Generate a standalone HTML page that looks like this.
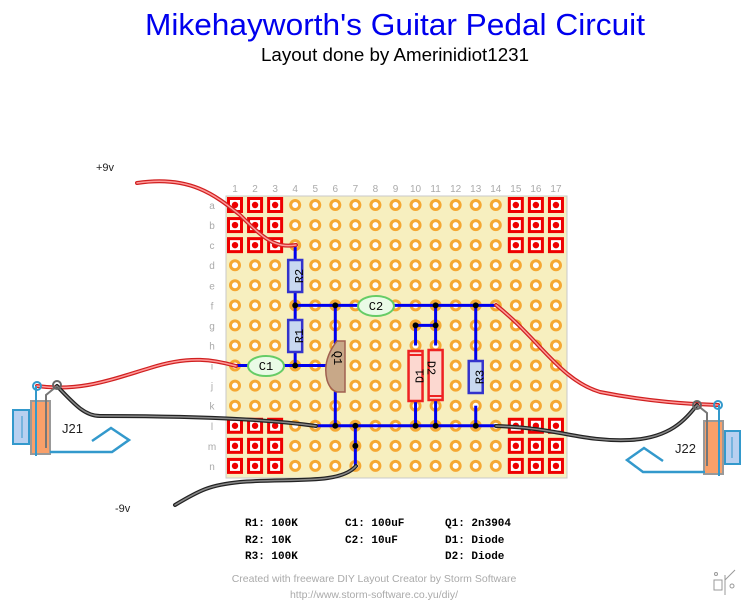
<!DOCTYPE html>
<html><head><meta charset="utf-8"><style>
body{margin:0;background:#fff;width:751px;height:603px;overflow:hidden;font-family:"Liberation Sans",sans-serif}
svg{display:block}
</style></head><body>
<svg id="s" width="751" height="603" viewBox="0 0 751 603">
<text x="395" y="35" text-anchor="middle" font-size="31" fill="#0000ee" textLength="500" lengthAdjust="spacingAndGlyphs">Mikehayworth's Guitar Pedal Circuit</text>
<text x="395" y="61" text-anchor="middle" font-size="18" fill="#000" textLength="268" lengthAdjust="spacingAndGlyphs">Layout done by Amerinidiot1231</text>
<rect x="226" y="196" width="341" height="282" fill="#f7efbf" stroke="#c8c8c8"/>
<g id="holes"></g>
<g id="traces" stroke="#0000ee" stroke-width="3" fill="none"></g>
<g id="dots"></g>
<g id="comps"></g>
<g fill="none" stroke-linecap="round">
<path d="M137,183 C190,175 215,195 240,215 C265,240 275,248 296,245" stroke="#d02020" stroke-width="4"/>
<path d="M137,183 C190,175 215,195 240,215 C265,240 275,248 296,245" stroke="#ff9a9a" stroke-width="1.5"/>
<path d="M37,386 C80,392 110,380 150,368 C190,355 215,360 236,366" stroke="#d02020" stroke-width="4"/>
<path d="M37,386 C80,392 110,380 150,368 C190,355 215,360 236,366" stroke="#ff9a9a" stroke-width="1.5"/>
<path d="M496,305 C540,340 560,380 600,392 C650,402 690,404 718,405" stroke="#d02020" stroke-width="4"/>
<path d="M496,305 C540,340 560,380 600,392 C650,402 690,404 718,405" stroke="#ff9a9a" stroke-width="1.5"/>
<path d="M57,386 C75,405 85,416 100,416 C180,416 260,418 316,426" stroke="#222" stroke-width="4"/>
<path d="M57,386 C75,405 85,416 100,416 C180,416 260,418 316,426" stroke="#888" stroke-width="1.5"/>
<path d="M496,426 C560,428 580,442 630,440 C670,438 685,420 697,405" stroke="#222" stroke-width="4"/>
<path d="M496,426 C560,428 580,442 630,440 C670,438 685,420 697,405" stroke="#888" stroke-width="1.5"/>
<path d="M175,505 C200,490 210,485 240,482 C290,478 340,485 356,466" stroke="#222" stroke-width="4"/>
<path d="M175,505 C200,490 210,485 240,482 C290,478 340,485 356,466" stroke="#888" stroke-width="1.5"/>
</g>
<text x="96" y="171" font-size="11" fill="#222">+9v</text>
<text x="115" y="512" font-size="11" fill="#222">-9v</text>
<g>
<rect x="13" y="410" width="16" height="34" fill="#b8d0f0" stroke="#3399cc" stroke-width="2"/>
<line x1="22" y1="416" x2="22" y2="438" stroke="#3399cc"/>
<rect x="31" y="401" width="19" height="53" fill="#f9a06a" stroke="#999" stroke-width="2"/>
<line x1="36" y1="386" x2="36" y2="456" stroke="#3399cc" stroke-width="2"/>
<polyline points="46,448 46,395 57,386" fill="none" stroke="#777" stroke-width="2"/>
<polyline points="50,452 112,452 129,440 111,428 92,441" fill="none" stroke="#3399cc" stroke-width="2.5"/>
<circle cx="37" cy="386" r="4" fill="none" stroke="#3399cc" stroke-width="2"/>
<circle cx="57" cy="385" r="4" fill="none" stroke="#666" stroke-width="2"/>
<text x="62" y="433" font-size="13" fill="#222">J21</text>
</g>
<g>
<rect x="725" y="431" width="15" height="33" fill="#b8d0f0" stroke="#3399cc" stroke-width="2"/>
<line x1="732" y1="437" x2="732" y2="458" stroke="#3399cc"/>
<rect x="704" y="421" width="19" height="53" fill="#f9a06a" stroke="#999" stroke-width="2"/>
<line x1="719" y1="405" x2="719" y2="476" stroke="#3399cc" stroke-width="2"/>
<polyline points="707,466 707,413 697,405" fill="none" stroke="#777" stroke-width="2"/>
<polyline points="705,472 643,472 627,460 644,448 663,461" fill="none" stroke="#3399cc" stroke-width="2.5"/>
<circle cx="718" cy="405" r="4" fill="none" stroke="#3399cc" stroke-width="2"/>
<circle cx="697" cy="405" r="4" fill="none" stroke="#666" stroke-width="2"/>
<text x="675" y="453" font-size="13" fill="#222">J22</text>
</g>
<g font-family="Liberation Mono, monospace" font-size="11" font-weight="bold" fill="#000">
<text x="245" y="526">R1: 100K</text><text x="245" y="543">R2: 10K</text><text x="245" y="559">R3: 100K</text>
<text x="345" y="526">C1: 100uF</text><text x="345" y="543">C2: 10uF</text>
<text x="445" y="526">Q1: 2n3904</text><text x="445" y="543">D1: Diode</text><text x="445" y="559">D2: Diode</text>
</g>
<text x="374" y="582" text-anchor="middle" font-size="10.5" fill="#aaa">Created with freeware DIY Layout Creator by Storm Software</text>
<text x="374" y="598" text-anchor="middle" font-size="10.5" fill="#aaa">http://www.storm-software.co.yu/diy/</text>
<g stroke="#999" fill="none">
<rect x="714" y="580" width="8" height="10"/><line x1="725" y1="575" x2="725" y2="595"/><line x1="725" y1="580" x2="735" y2="570"/><circle cx="732" cy="586" r="2"/><circle cx="716" cy="574" r="1.5"/>
</g>
</svg>
<script>
const NS="http://www.w3.org/2000/svg";
const colLabels=["1","2","3","4","5","6","7","8","9","10","11","12","13","14","15","16","17"];
const rowLabels=["a","b","c","d","e","f","g","h","i","j","k","l","m","n"];
function X(c){return 235+(c-1)*20.06;}
function Y(r){return 205+r*20.07;}
function mk(tag,attrs,parent){const e=document.createElementNS(NS,tag);for(const k in attrs)e.setAttribute(k,attrs[k]);parent.appendChild(e);return e;}
const holes=document.getElementById('holes');
colLabels.forEach((l,i)=>{const t=mk('text',{x:X(i+1),y:192,'text-anchor':'middle','font-size':10,fill:'#aaa'},holes);t.textContent=l;

});
rowLabels.forEach((l,i)=>{const t=mk('text',{x:212,y:Y(i)+4,'text-anchor':'middle','font-size':10,fill:'#aaa'},holes);t.textContent=l;

});
for(let r=0;r<14;r++)for(let c=1;c<=17;c++){
 const pad=(c<=3||c>=15)&&(r<=2||r>=11);
 let g;
 if(pad){g=mk('g',{},holes);mk('rect',{x:X(c)-6.5,y:Y(r)-6.5,width:13,height:13,fill:'#fff',stroke:'#ee0000','stroke-width':3},g);mk('circle',{cx:X(c),cy:Y(r),r:3.2,fill:'#ee0000'},g);
 }
 else{g=mk('circle',{cx:X(c),cy:Y(r),r:4.5,fill:'#fff',stroke:'#f5a833','stroke-width':3},holes);
 }
 
}
const tr=document.getElementById('traces');
const segs=[[4,2,4,8],[4,5,14,5],[6,5,6,7],[6,9,6,11],[1,8,6,8],[10,6,11,6],[10,6,10,7],[10,9,10,11],[11,5,11,7],[11,9,11,11],[13,5,13,8],[13,10,13,11],[5,11,14,11],[7,11,7,13]];
segs.forEach(s=>{const l=mk('line',{x1:X(s[0]),y1:Y(s[1]),x2:X(s[2]),y2:Y(s[3])},tr);

});
const dg=document.getElementById('dots');
const dots=[[4,5],[6,5],[4,8],[6,11],[7,11],[7,12],[10,11],[11,11],[13,11],[10,6],[11,6],[11,5],[13,5]];
dots.forEach(d=>{const c=mk('circle',{cx:X(d[0]),cy:Y(d[1]),r:3,fill:'#000'},dg);

});
const comps=document.getElementById('comps');
function label(x,y,t,rot){const e=mk('text',{x:x,y:y,'text-anchor':'middle','font-size':12,fill:'#000','font-family':'Liberation Mono, monospace',transform:`rotate(${rot} ${x} ${y-4})`},comps);e.textContent=t;}
function res(c,y1,y2,name,fill,stroke){const r=mk('rect',{x:X(c)-7,y:y1,width:14,height:y2-y1,fill:fill,stroke:stroke,'stroke-width':2.5},comps);

}
res(4,260,292,'resistor-r2','#c8d8f0','#3333cc');label(X(4)+4,280,'R2',-90);
res(4,320,352,'resistor-r1','#c8d8f0','#3333cc');label(X(4)+4,340,'R1',-90);
res(13,361,393,'resistor-r3','#c8d8f0','#3333cc');label(X(13)+4,381,'R3',-90);
res(10,351,401,'diode-d1','#fcd8d0','#ee2222');label(X(10)+4,380,'D1',-90);
res(11,350,400,'diode-d2','#fcd8d0','#ee2222');label(X(11)-4,372,'D2',90);
mk('line',{x1:X(10)-6,y1:355,x2:X(10)+6,y2:355,stroke:'#ee2222','stroke-width':2},comps);
mk('line',{x1:X(11)-6,y1:396,x2:X(11)+6,y2:396,stroke:'#ee2222','stroke-width':2},comps);
function cap(cx,cy,name,t){const e=mk('ellipse',{cx:cx,cy:cy,rx:18,ry:10,fill:'#eafbe6',stroke:'#66cc66','stroke-width':2},comps);


const tx=mk('text',{x:cx,y:cy+4,'text-anchor':'middle','font-size':12,'font-family':'Liberation Mono, monospace'},comps);tx.textContent=t;}
cap(376,306,'capacitor-c2','C2');cap(266,366,'capacitor-c1','C1');
const q=mk('path',{d:'M345,341 L337,341 Q322,360 327,380 Q330,390 337,392 L345,392 Z',fill:'#c8a888',stroke:'#a06050','stroke-width':1.5},comps);


label(338,362,'Q1',90);
</script>
</body></html>
